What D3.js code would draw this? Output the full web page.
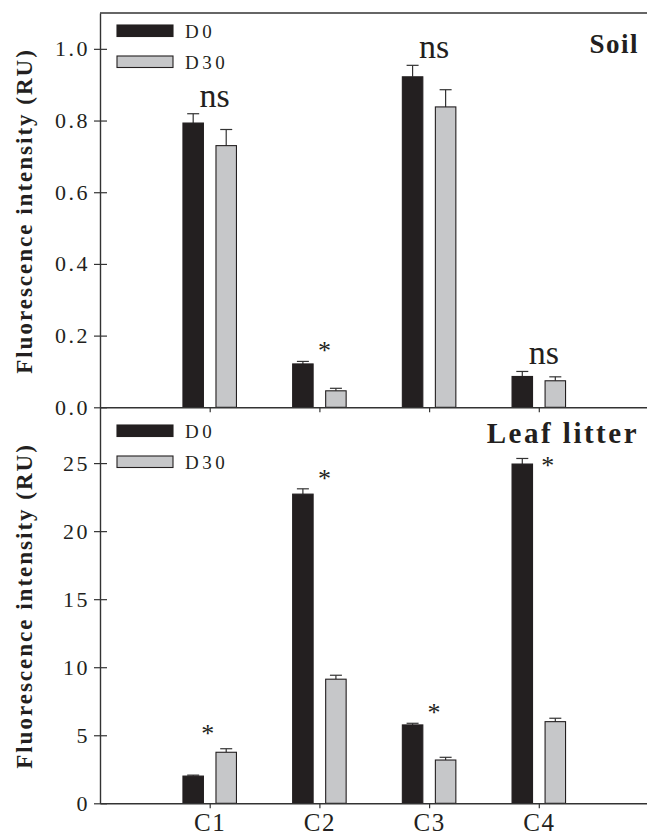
<!DOCTYPE html>
<html>
<head>
<meta charset="utf-8">
<script src="https://cdn.jsdelivr.net/npm/d3@7"></script>
<style>
  body { margin: 0; background: #fff; }
  svg text { font-family: "Liberation Serif", "Times New Roman", serif; }
</style>
</head>
<body>
<div id="chart"></div>
<script>
// Data
const categories = ["C1", "C2", "C3", "C4"];
const series = ["D0", "D30"];

const soilD0 = [0.793, 0.121, 0.922, 0.086];
const soilD0Err = [0.026, 0.007, 0.032, 0.014];
const soilD30 = [0.730, 0.046, 0.838, 0.074];
const soilD30Err = [0.045, 0.007, 0.048, 0.011];
const soilSig = ["ns", "*", "ns", "ns"];

const litterD0 = [2.0, 22.72, 5.76, 24.93];
const litterD0Err = [0.07, 0.39, 0.12, 0.41];
const litterD30 = [3.75, 9.12, 3.18, 6.0];
const litterD30Err = [0.26, 0.29, 0.2, 0.25];
const litterSig = ["*", "*", "*", "*"];

const soilTicks = [0, 0.2, 0.4, 0.6, 0.8, 1.0];
const litterTicks = [0, 5, 10, 15, 20, 25];

const width = 647, height = 837;
const left = 100, right = 648.5;
const colors = { D0: "#231f20", D30: "#c6c7c9" };

const svg = d3.select("#chart").append("svg")
  .attr("width", width)
  .attr("height", height);

const x = d3.scalePoint().domain(categories).range([left, right]).padding(1);
const sub = d3.scaleBand().domain(series).range([-26.75, 26.75]).paddingInner(0.38);

function drawPanel(opt) {
  const y = d3.scaleLinear().domain(opt.domain).range([opt.bottom, opt.top]);
  const g = svg.append("g");

  const rows = categories.map((c, i) => ({
    cat: c,
    sig: opt.sig[i],
    bars: [
      { s: "D0", v: opt.d0[i], e: opt.d0Err[i] },
      { s: "D30", v: opt.d30[i], e: opt.d30Err[i] }
    ]
  }));

  // error bars (upper only)
  const flat = rows.flatMap(r => r.bars.map(b => Object.assign({ cat: r.cat }, b)));
  const cx = d => x(d.cat) + sub(d.s) + sub.bandwidth() / 2;
  g.selectAll("line.err").data(flat).enter().append("line")
    .attr("x1", cx).attr("x2", cx)
    .attr("y1", d => y(d.v)).attr("y2", d => y(d.v + d.e))
    .attr("stroke", "#333").attr("stroke-width", 1.2);
  g.selectAll("line.cap").data(flat).enter().append("line")
    .attr("x1", d => cx(d) - 6).attr("x2", d => cx(d) + 6)
    .attr("y1", d => y(d.v + d.e)).attr("y2", d => y(d.v + d.e))
    .attr("stroke", "#333").attr("stroke-width", 1.2);

  // bars
  g.selectAll("rect.bar").data(flat).enter().append("rect")
    .attr("x", d => x(d.cat) + sub(d.s))
    .attr("width", sub.bandwidth())
    .attr("y", d => y(d.v))
    .attr("height", d => y(0) - y(d.v))
    .attr("fill", d => colors[d.s])
    .attr("stroke", "#231f20").attr("stroke-width", 1.1);

  // significance labels
  rows.forEach((r, i) => {
    const top = d3.max(r.bars, b => b.v + b.e);
    const isStar = r.sig === "*";
    const off = (opt.sigOffset && opt.sigOffset[i]) || [0, 0];
    g.append("text")
      .attr("x", x(r.cat) + 5 + off[0])
      .attr("y", y(top) - (isStar ? 2 : 7) + off[1])
      .attr("text-anchor", "middle")
      .attr("font-size", isStar ? 26 : 34)
      .attr("fill", "#231f20")
      .text(r.sig);
  });

  // y axis
  const ay = g.append("g")
    .attr("transform", `translate(${left},0)`)
    .call(d3.axisLeft(y).tickValues(opt.ticks).tickFormat(opt.fmt).tickSize(6).tickSizeOuter(0));
  ay.select(".domain").attr("stroke", "#333").attr("stroke-width", 1.4);
  ay.selectAll(".tick line").attr("x1", 7).attr("stroke", "#333").attr("stroke-width", 1.2);
  ay.selectAll(".tick text")
    .attr("x", -10)
    .attr("font-size", 22)
    .attr("letter-spacing", 2.5)
    .attr("fill", "#231f20");

  // x axis
  const ax = g.append("g")
    .attr("transform", `translate(0,${opt.bottom})`)
    .call(d3.axisBottom(x).tickSize(5).tickSizeOuter(0).tickFormat(opt.xLabels ? null : ""));
  ax.select(".domain").attr("stroke", "#333").attr("stroke-width", 1.6);
  ax.selectAll(".tick line").attr("stroke", "#333").attr("stroke-width", 1.2);
  ax.selectAll(".tick text")
    .attr("y", 28)
    .attr("dy", 0)
    .attr("font-size", 25)
    .attr("letter-spacing", 1.5)
    .attr("fill", "#231f20");

  if (opt.border) {
    g.append("line")
      .attr("x1", left).attr("x2", right)
      .attr("y1", opt.top).attr("y2", opt.top)
      .attr("stroke", "#333").attr("stroke-width", 1.4);
  }

  // y label
  g.append("text")
    .attr("transform", `translate(32,${opt.labelY}) rotate(-90)`)
    .attr("text-anchor", "middle")
    .attr("font-size", 23)
    .attr("font-weight", "bold")
    .attr("letter-spacing", 2)
    .attr("fill", "#231f20")
    .text("Fluorescence intensity (RU)");

  // title
  g.append("text")
    .attr("x", 639)
    .attr("y", opt.titleY)
    .attr("text-anchor", "end")
    .attr("font-size", opt.titleSize)
    .attr("font-weight", "bold")
    .attr("letter-spacing", opt.titleLs)
    .attr("fill", "#231f20")
    .text(opt.title);

  // legend
  const lg = g.append("g");
  series.forEach((s, i) => {
    lg.append("rect")
      .attr("x", 117).attr("y", opt.legendY + i * 31)
      .attr("width", 56).attr("height", 11.5)
      .attr("fill", colors[s])
      .attr("stroke", "#231f20").attr("stroke-width", 1.1);
    lg.append("text")
      .attr("x", 185).attr("y", opt.legendY + i * 31 + 13)
      .attr("font-size", 19)
      .attr("letter-spacing", 3.5)
      .attr("fill", "#231f20")
      .text(s);
  });
}

drawPanel({
  top: 13, bottom: 407.3, domain: [0, 1.1],
  d0: soilD0, d0Err: soilD0Err, d30: soilD30, d30Err: soilD30Err, sig: soilSig,
  ticks: soilTicks, fmt: d3.format(".1f"),
  border: true, xLabels: false, labelY: 211,
  title: "Soil", titleY: 53, titleSize: 27, titleLs: 1.5,
  legendY: 25
});

drawPanel({
  top: 407.3, bottom: 803.3, domain: [0, 29.1],
  d0: litterD0, d0Err: litterD0Err, d30: litterD30, d30Err: litterD30Err, sig: litterSig,
  sigOffset: [[-7, -5], null, null, [4, 18]],
  ticks: litterTicks, fmt: d3.format("d"),
  border: false, xLabels: true, labelY: 606,
  title: "Leaf litter", titleY: 443, titleSize: 29, titleLs: 2.5,
  legendY: 425
});
</script>
</body>
</html>
